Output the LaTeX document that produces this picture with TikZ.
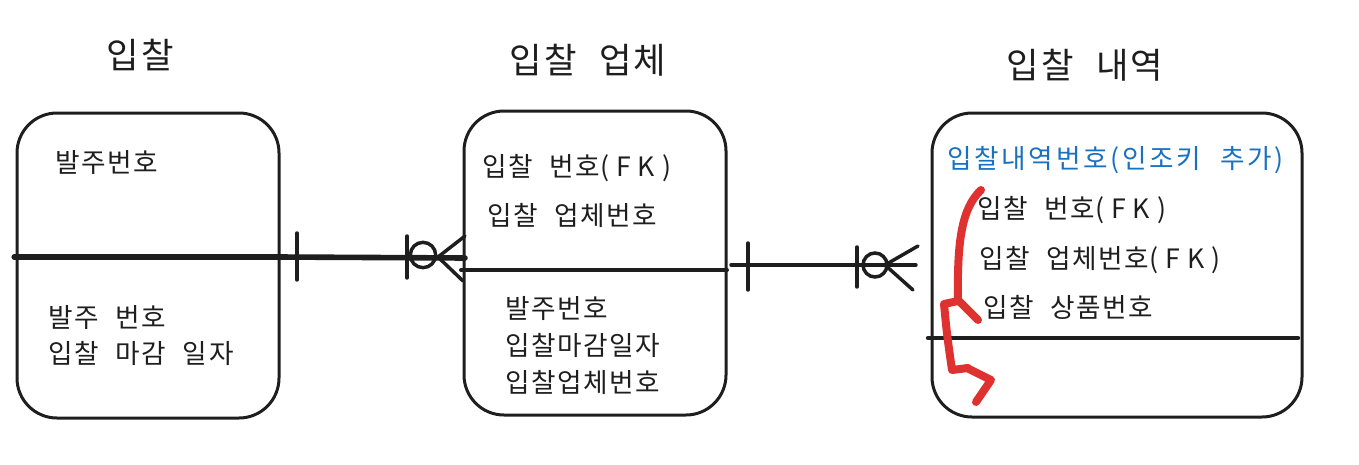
\documentclass[tikz,border=0pt]{standalone}
\usepackage{fontspec}
\setmainfont{Noto Sans CJK KR}[LetterSpace=6,WordSpace=2.2]
\usepackage{tikz}
\definecolor{ink}{HTML}{1E1E1E}
\definecolor{penblue}{HTML}{1971C2}
\definecolor{penred}{HTML}{E03131}
\newcommand{\fk}{{\addfontfeature{LetterSpace=26}(FK)}}

\tikzset{
  entity/.style={draw=ink, line width=2.25pt, rounded corners=30pt, inner sep=0pt},
  title/.style={font=\fontsize{26.5}{30}\selectfont, text=ink, inner sep=0pt},
  attr/.style={font=\fontsize{20}{24}\selectfont, anchor=west, inner sep=0pt, text=ink},
  divider/.style={draw=ink, line width=3pt, line cap=round},
  rel/.style={ink, line width=2.6pt, line cap=round},
  ring/.style={draw=ink, line width=2.6pt, circle, inner sep=0pt, minimum size=19pt},
  redpen/.style={penred, line width=6pt, line cap=round, line join=round},
}

\begin{document}
\begin{tikzpicture}[x=0.75pt,y=-0.75pt]
\useasboundingbox (0,0) rectangle (1359,464);

% titles
\draw (140,55) node (bidTitle) [title] {입찰};
\draw (588,60) node (firmTitle) [title] {입찰 업체};
\draw (1085,65) node (itemTitle) [title] {입찰 내역};

% entity boxes
\draw (148,265.5) node (bid) [entity, minimum width=196.5pt, minimum height=228.75pt] {};
\draw (595,263) node (firm) [entity, minimum width=196.5pt, minimum height=228pt] {};
\draw (1117,265) node (item) [entity, minimum width=277.5pt, minimum height=228pt] {};

% dividers
\coordinate (bidL) at (14,257);   \coordinate (bidR) at (279,257);
\coordinate (firmL) at (461,270); \coordinate (firmR) at (727,270);
\coordinate (itemL) at (928,338); \coordinate (itemR) at (1298,338);
\draw[divider, line width=3.8pt] (bidL) -- (bidR);
\draw[divider] (firmL) -- (firmR);
\draw[divider, line width=3.3pt] (itemL) -- (itemR);

% attributes
\draw (55,162) node (bidKey) [attr] {발주번호};
\draw (48,317) node (bidA1) [attr] {발주 번호};
\draw (48,353) node (bidA2) [attr] {입찰 마감 일자};

\draw (482,168) node (firmKey1) [attr] {입찰 번호\fk};
\draw (487,215) node (firmKey2) [attr] {입찰 업체번호};
\draw (505,308) node (firmA1) [attr] {발주번호};
\draw (505,345) node (firmA2) [attr] {입찰마감일자};
\draw (505,382) node (firmA3) [attr] {입찰업체번호};

\draw (947,160) node (itemKey) [attr, text=penblue] {\addfontfeature{LetterSpace=10}입찰내역번호(인조키 추가)};
\draw (977,210) node (itemA1) [attr] {입찰 번호\fk};
\draw (979,260) node (itemA2) [attr] {입찰 업체번호\fk};
\draw (983,307) node (itemA3) [attr] {입찰 상품번호};

% relationship: bid -- firm
\coordinate (relAs) at (279,257); \coordinate (relAe) at (465,258);
\draw[rel, line width=4.2pt] (relAs) -- (relAe);
\draw[rel] (297,233) -- (297,280);
\draw[rel] (407,236) -- (407,278);
\draw (423,255) node (ringA) [ring] {};
\draw[rel] (438,257) -- (465,236);
\draw[rel] (438,257) -- (463,281);

% relationship: firm -- item
\coordinate (relBs) at (731,265); \coordinate (relBe) at (916,265);
\draw[rel] (relBs) -- (relBe);
\draw[rel] (748,243) -- (748,290);
\draw[rel] (857,247) -- (857,287);
\draw (875,265) node (ringB) [ring, minimum size=18pt] {};
\draw[rel] (885,265) -- (918,246);
\draw[rel] (885,265) -- (913,290);

% red note
\draw[redpen] (981,190) .. controls (962,208) and (957,240) .. (958,300) -- (978,320);
\draw[redpen] (958,301) -- (944,304) .. controls (947,335) .. (952,370) -- (968,368);
\draw[redpen] (967,368) -- (991,380) -- (976,402);
\end{tikzpicture}
\end{document}
